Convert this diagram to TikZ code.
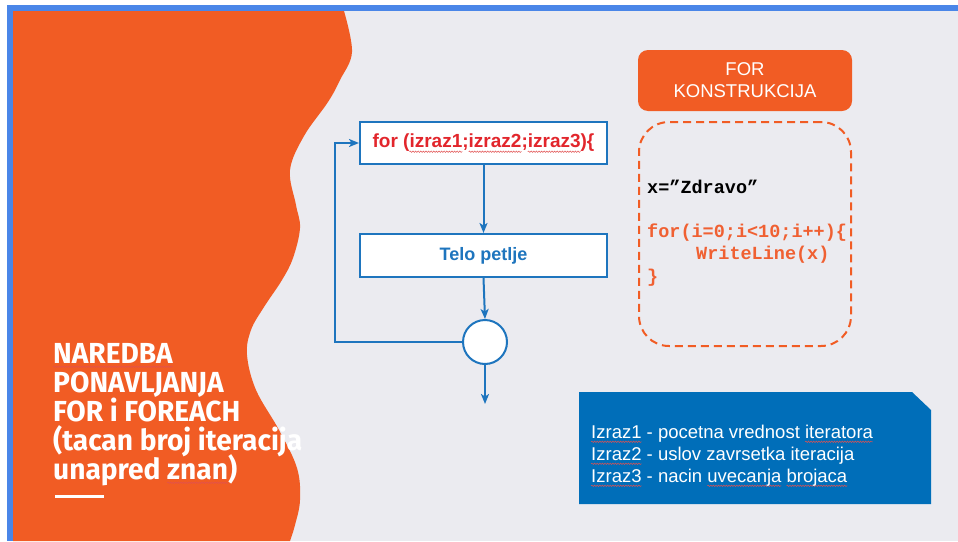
\documentclass[tikz,border=0pt]{standalone}
\usepackage{fontspec}
\setmainfont{Liberation Sans}
\newfontfamily\titlefont[FakeStretch=0.97]{Fira Sans}
\newfontfamily\codefont{Liberation Mono}
\usetikzlibrary{arrows.meta,decorations.pathmorphing}
\definecolor{bgray}{RGB}{235,235,240}
\definecolor{frameblue}{RGB}{74,134,232}
\definecolor{orng}{RGB}{241,92,36}
\definecolor{codeor}{RGB}{240,96,50}
\definecolor{flowblue}{RGB}{30,117,190}
\definecolor{boxblue}{RGB}{0,110,185}
\definecolor{forred}{RGB}{226,38,44}
\definecolor{sqred}{RGB}{225,80,80}
\newsavebox\sqbox
\newlength\sqw
\newcommand\sq[1]{\sbox\sqbox{#1}\setlength\sqw{\wd\sqbox}\rlap{\tikz[overlay,x=1pt,y=1pt,baseline=0pt]
  \draw[sqred, line width=0.5pt, decorate, decoration={snake, amplitude=0.7pt, segment length=2.6pt}] (0,-3.8) -- (\sqw,-3.8);}#1}
\tikzset{
  flow/.style={draw=flowblue, line width=2pt, -{Stealth[length=10pt,width=8pt,inset=2.5pt]}},
  flowbox/.style={draw=flowblue, fill=white, line width=2pt, minimum width=247pt, inner sep=0pt},
  titleline/.style={anchor=base west, inner sep=0pt, text=white,
    font=\titlefont\bfseries\fontsize{29}{29}\selectfont},
  codeline/.style={anchor=base west, inner sep=0pt, font=\codefont\bfseries\fontsize{18.5}{22}\selectfont},
  infoline/.style={anchor=base west, inner sep=0pt, text=white, font=\fontsize{18.5}{22}\selectfont}
}
\begin{document}
\begin{tikzpicture}[x=1pt,y=-1pt]
\useasboundingbox (0,0) rectangle (958,541);
\fill[white] (0,0) rectangle (958,541);
\fill[frameblue] (7,5) rectangle (958,541);
\fill[bgray] (13,11) rectangle (958,541);
% orange wave
\fill[orng] (13,11) -- plot[smooth, tension=0.6] coordinates {(344,11) (352,52) (340,80) (328,102) (304,136) (290,170) (296,205) (300,228) (293,258) (282,280) (264,307) (251,330) (247,355) (256,390) (279,430) (297,468) (300,500) (295,525) (290,541)} -- (13,541) -- cycle;
% title
\node[titleline] (t1) at (53,363) {\sq{NAREDBA}};
\node[titleline] (t2) at (53,392) {PONAVLJANJA};
\node[titleline] (t3) at (53,421) {FOR i FOREACH};
\node[titleline] (t4) at (53,450) {(tacan broj iteracija};
\node[titleline] (t5) at (53,479) {unapred \sq{znan})};
\draw[white, line width=3pt] (55,496) -- (104,496);
% flowchart
\node[flowbox, minimum height=42pt, text=forred, font=\bfseries\fontsize{19}{20}\selectfont] (b1) at (483.5,143) {for (\sq{izraz1};\sq{izraz2};\sq{izraz3})\{};
\node[flowbox, minimum height=43pt, text=flowblue, font=\bfseries\fontsize{18}{20}\selectfont] (b2) at (483.5,255.5) {Telo petlje};
\node[draw=flowblue, fill=white, line width=2pt, circle, minimum size=44pt, inner sep=0pt] (c) at (485,342) {};
\coordinate (endc) at (485,404);
\coordinate (lp) at (335,342);
\draw[flow] (b1.south) -- (b2.north);
\draw[flow] (b2.south) -- (c.north);
\draw[flow] (c.south) -- (endc);
\draw[flow] (c.west) -- (lp) |- (b1.west);
% FOR KONSTRUKCIJA
\node[fill=orng, rounded corners=10pt, minimum width=214pt, minimum height=61pt, inner sep=0pt,
  text=white, align=center, font=\fontsize{18.5}{22}\selectfont] (hdr) at (745,80.5) {FOR\\KONSTRUKCIJA};
\node[draw=orng, line width=2pt, dash pattern=on 8pt off 5pt, rounded corners=30pt,
  minimum width=212pt, minimum height=224pt] (db) at (745,234) {};
\node[codeline, text=black] (c1) at (647,193) {x=”Zdravo”};
\node[codeline, text=codeor] (c2) at (647,237) {for(i=0;i<10;i++)\{};
\node[codeline, text=codeor] (c3) at (696,259.5) {WriteLine(x)};
\node[codeline, text=codeor] (c4) at (647,282) {\}};
% info box
\fill[boxblue] (579,392) -- (912,392) -- (931,410) -- (931,504) -- (579,504) -- cycle;
\node[infoline] (i1) at (591,438) {\sq{Izraz1} - pocetna vrednost \sq{iteratora}};
\node[infoline] (i2) at (591,460) {\sq{Izraz2} - uslov zavrsetka iteracija};
\node[infoline] (i3) at (591,482) {\sq{Izraz3} - nacin \sq{uvecanja} \sq{brojaca}};
\end{tikzpicture}
\end{document}
